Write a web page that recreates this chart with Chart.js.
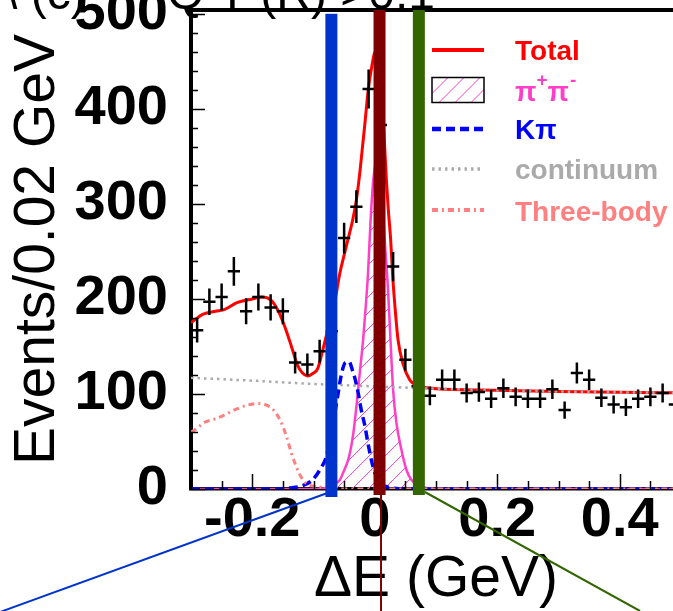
<!DOCTYPE html>
<html lang="en">
<head>
<meta charset="UTF-8">
<title>Delta E fit</title>
<style>
    html, body {
        margin: 0;
        padding: 0;
        background: #fff;
        overflow: hidden;
    }
    .wrap {
        position: absolute;
        left: 0;
        top: 0;
        width: 700px;
        height: 611px;
    }
</style>
</head>
<body>
<div class="wrap"><canvas id="deChart"></canvas></div>

<script src="https://cdn.jsdelivr.net/npm/chart.js"></script>
<script>
// data histogram, 0.02 GeV bins
const binCenters = [-0.29, -0.27, -0.25, -0.23, -0.21, -0.19, -0.17, -0.15, -0.13, -0.11,
    -0.09, -0.07, -0.05, -0.03, -0.01, 0.01, 0.03, 0.05, 0.07, 0.09,
    0.11, 0.13, 0.15, 0.17, 0.19, 0.21, 0.23, 0.25, 0.27, 0.29,
    0.31, 0.33, 0.35, 0.37, 0.39, 0.41, 0.43, 0.45, 0.47, 0.49];
const binCounts = [167, 197, 202, 229, 187, 202, 191, 187, 133, 131,
    145, 166, 264, 297, 421, 383, 234, 136, 108, 98,
    115, 115, 101, 102, 95, 106, 97, 95, 95, 105,
    83, 122, 115, 96, 89, 86, 95, 97, 101, 89];
const binHalfWidth = 0.01;

// fit components
const totalX = [-0.30, -0.28, -0.26, -0.245, -0.225, -0.20, -0.185, -0.17, -0.158, -0.147,
    -0.136, -0.126, -0.118, -0.11, -0.10, -0.093, -0.085, -0.075, -0.065, -0.057,
    -0.05, -0.044, -0.036, -0.03, -0.024, -0.02, -0.016, -0.011, -0.005, 0.001,
    0.006, 0.011, 0.015, 0.019, 0.022, 0.026, 0.029, 0.033, 0.038, 0.046,
    0.057, 0.065, 0.08, 0.1, 0.2, 0.3, 0.4, 0.5];
const totalY = [175, 184, 187, 189, 196, 200, 202, 199, 188, 171,
    150, 130, 122, 119, 122, 127, 146, 172, 198, 227,
    246, 262, 283, 304, 335, 360, 385, 418, 444, 460,
    450, 418, 375, 325, 295, 262, 227, 192, 157, 132,
    115, 110, 107, 105.5, 104, 102.6, 101.7, 101.2];

const pipiX = [-0.30, -0.10, -0.08, -0.069, -0.057, -0.052, -0.042, -0.035, -0.030, -0.0245,
    -0.019, -0.0147, -0.011, -0.007, -0.0028, 0.0025, 0.008, 0.013, 0.017, 0.0217,
    0.0257, 0.030, 0.0355, 0.0436, 0.0518, 0.06, 0.0735, 0.09, 0.11, 0.5];
const pipiY = [0, 0, 1, 4, 9.5, 16.5, 34, 58.6, 86.6, 122,
    157, 192, 227, 280, 322, 345, 330, 295, 255, 209,
    157, 104, 69, 41, 20, 9.5, 3, 0.5, 0, 0];

const kpiX = [-0.30, -0.16, -0.14, -0.12, -0.101, -0.087, -0.079, -0.07, -0.06, -0.054,
    -0.048, -0.042, -0.036, -0.033, -0.027, -0.022, -0.016, -0.011, -0.0055, -0.0028,
    0.003, 0.008, 0.019, 0.03, 0.05, 0.5];
const kpiY = [0, 0, 1, 3, 10, 23, 34, 62, 100, 122,
    133, 134, 124, 118, 101, 83, 66, 48, 30.5, 23.5,
    12, 6, 2.4, 1, 0, 0];

const contX = [-0.30, -0.20, -0.10, 0.0, 0.1, 0.2, 0.3, 0.4, 0.5];
const contY = [117, 114, 110.5, 108, 105.5, 104, 102.6, 101.7, 101.2];

const threeX = [-0.30, -0.294, -0.278, -0.259, -0.245, -0.226, -0.207, -0.190, -0.174, -0.163,
    -0.152, -0.144, -0.136, -0.127, -0.119, -0.111, -0.093, -0.07, -0.05, 0.5];
const threeY = [60, 62, 70, 74, 78, 84, 88.4, 90, 87.4, 81.4,
    69, 55, 37.6, 21.8, 11.3, 5.3, 2.4, 0.5, 0, 0];

// signal window cuts
const cutValues = [-0.0708, 0.0078, 0.072];
const cutColors = ["#0033cc", "#7f0000", "#336600"];

const xTickValues = [-0.2, 0, 0.2, 0.4];
const yTickValues = [0, 100, 200, 300, 400, 500];

const FONT = "'Liberation Sans', Arial, Helvetica, sans-serif";
Chart.defaults.font.family = FONT;
Chart.defaults.color = "#000";

const pipiColor = "#ff3fc8";

function toPoints(xs, ys) {
    return xs.map((x, i) => ({ x: x, y: ys[i] }));
}

// diagonal "/" hatching inside whatever clip is active
function drawHatch(ctx, x, y, w, h) {
    ctx.strokeStyle = pipiColor;
    ctx.lineWidth = 1;
    ctx.beginPath();
    for (let s = -h; s < w; s += 16) {
        ctx.moveTo(x + s, y + h);
        ctx.lineTo(x + s + h, y);
    }
    ctx.stroke();
}

const histPlugin = {
    id: "histPlugin",
    beforeDatasetsDraw(chart) {
        // hatched area under the pi+pi- shape
        const { ctx, chartArea: a, scales: { y } } = chart;
        const meta = chart.getDatasetMeta(1);
        const line = meta.dataset;
        const pts = meta.data;
        if (line.updateControlPoints) line.updateControlPoints(a, "x");
        const base = y.getPixelForValue(0);
        ctx.save();
        ctx.beginPath();
        ctx.rect(a.left, a.top, a.right - a.left, a.bottom - a.top);
        ctx.clip();
        ctx.beginPath();
        line.path(ctx);
        ctx.lineTo(pts[pts.length - 1].x, base);
        ctx.lineTo(pts[0].x, base);
        ctx.closePath();
        ctx.clip();
        drawHatch(ctx, a.left, a.top, a.right - a.left, a.bottom - a.top);
        ctx.restore();
    },
    afterDatasetsDraw(chart) {
        const { ctx, chartArea: a, scales: { x, y } } = chart;
        ctx.save();

        // data points with sqrt(N) errors
        ctx.beginPath();
        ctx.rect(a.left, a.top, a.right - a.left, a.bottom - a.top);
        ctx.clip();
        ctx.strokeStyle = "#000";
        ctx.lineWidth = 2.5;
        ctx.beginPath();
        binCenters.forEach((c, i) => {
            const n = binCounts[i];
            const err = Math.sqrt(n);
            const px = x.getPixelForValue(c);
            const py = y.getPixelForValue(n);
            ctx.moveTo(x.getPixelForValue(c - binHalfWidth), py);
            ctx.lineTo(x.getPixelForValue(c + binHalfWidth), py);
            ctx.moveTo(px, y.getPixelForValue(n - err));
            ctx.lineTo(px, y.getPixelForValue(n + err));
        });
        ctx.stroke();
        ctx.restore();

        // tick marks pointing into the frame
        ctx.save();
        ctx.strokeStyle = "#000";
        ctx.lineWidth = 1.5;
        ctx.beginPath();
        for (let v = 0; v <= 500; v += 20) {
            const py = Math.round(y.getPixelForValue(v)) + 0.5;
            ctx.moveTo(a.left, py);
            ctx.lineTo(a.left + (v % 100 === 0 ? 14 : 7), py);
        }
        for (let k = -6; k <= 10; k++) {
            const px = Math.round(x.getPixelForValue(k * 0.05)) + 0.5;
            ctx.moveTo(px, a.bottom);
            ctx.lineTo(px, a.bottom - (k % 4 === 0 ? 15 : 8));
        }
        ctx.stroke();

        // top edge of the frame
        ctx.lineWidth = 4;
        ctx.beginPath();
        ctx.moveTo(a.left - 2, a.top);
        ctx.lineTo(a.right, a.top);
        ctx.stroke();

        drawLegend(ctx, chart);
        ctx.restore();
    },
    afterDraw(chart) {
        const { ctx, chartArea: a, scales: { x, y } } = chart;
        ctx.save();

        // pad title, mostly above the top edge of the canvas
        ctx.fillStyle = "#000";
        ctx.font = "48px " + FONT;
        ctx.textBaseline = "alphabetic";
        ctx.textAlign = "left";
        ctx.fillText("\\ (c)", 4, 9);
        ctx.fillText("Q T (R) >0.1", 167, 9);

        const tops = [y.getPixelForValue(500), a.top, a.top];
        const bottoms = [a.bottom + 8, a.bottom + 6, a.bottom + 6];
        const px = cutValues.map(v => x.getPixelForValue(v));
        cutValues.forEach((v, i) => {
            ctx.fillStyle = cutColors[i];
            ctx.fillRect(px[i] - 6, tops[i], 12, bottoms[i] - tops[i]);
        });

        // guide lines running off the bottom of the pad
        ctx.lineWidth = 2;
        ctx.strokeStyle = cutColors[0];
        ctx.beginPath();
        ctx.moveTo(px[0] - 4, a.bottom + 4);
        ctx.lineTo(0, 612);
        ctx.stroke();
        ctx.strokeStyle = cutColors[1];
        ctx.beginPath();
        ctx.moveTo(px[1] + 1.5, a.bottom + 6);
        ctx.lineTo(px[1] + 1.5, 611);
        ctx.stroke();
        ctx.strokeStyle = cutColors[2];
        ctx.beginPath();
        ctx.moveTo(px[2] + 6, a.bottom + 3);
        ctx.lineTo(640, 611);
        ctx.stroke();
        ctx.restore();
    }
};

function drawLegend(ctx, chart) {
    const ds = chart.data.datasets;
    const x0 = 432, x1 = 484, tx = 515;
    const rows = [50, 90, 129, 169, 210];
    ctx.save();
    ctx.textBaseline = "alphabetic";
    ctx.textAlign = "left";

    rows.forEach((ry, i) => {
        const d = ds[i];
        if (i === 1) {
            ctx.save();
            ctx.beginPath();
            ctx.rect(x0, ry - 12.5, x1 - x0, 25);
            ctx.clip();
            drawHatch(ctx, x0, ry - 12.5, x1 - x0, 25);
            ctx.restore();
            ctx.strokeStyle = "#000";
            ctx.lineWidth = 1.5;
            ctx.strokeRect(x0, ry - 12.5, x1 - x0, 25);
        } else {
            ctx.strokeStyle = d.borderColor;
            ctx.lineWidth = d.borderWidth + 1;
            ctx.setLineDash(d.borderDash || []);
            ctx.beginPath();
            ctx.moveTo(x0, ry);
            ctx.lineTo(x1, ry);
            ctx.stroke();
            ctx.setLineDash([]);
        }
    });

    const big = "bold 28px " + FONT;
    const small = "bold 19px " + FONT;
    ctx.font = big;
    ctx.fillStyle = ds[0].borderColor;
    ctx.fillText("Total", tx, rows[0] + 10);

    // pi+ pi- with raised charges
    let cx = tx;
    const b1 = rows[1] + 11;
    ctx.fillStyle = pipiColor;
    ctx.font = big; ctx.fillText("\u03c0", cx, b1); cx += ctx.measureText("\u03c0").width;
    ctx.font = small; ctx.fillText("+", cx, b1 - 15); cx += ctx.measureText("+").width;
    ctx.font = big; ctx.fillText("\u03c0", cx, b1); cx += ctx.measureText("\u03c0").width;
    ctx.font = small; ctx.fillText("-", cx + 1, b1 - 15);

    ctx.font = big;
    ctx.fillStyle = ds[2].borderColor;
    ctx.fillText("K\u03c0", tx, rows[2] + 10);
    ctx.fillStyle = ds[3].borderColor;
    ctx.fillText("continuum", tx, rows[3] + 10);
    ctx.fillStyle = ds[4].borderColor;
    ctx.fillText("Three-body", tx, rows[4] + 11);
    ctx.restore();
}

const ctx = document.getElementById("deChart").getContext("2d");
new Chart(ctx, {
    type: "line",
    data: {
        datasets: [
            {
                label: "Total",
                data: toPoints(totalX, totalY),
                borderColor: "#ff0000",
                borderWidth: 3,
                order: 3
            },
            {
                label: "\u03c0+\u03c0-",
                data: toPoints(pipiX, pipiY),
                borderColor: pipiColor,
                borderWidth: 2.5,
                order: 5
            },
            {
                label: "K\u03c0",
                data: toPoints(kpiX, kpiY),
                borderColor: "#0000ff",
                borderWidth: 3.5,
                borderDash: [9, 5],
                order: 4
            },
            {
                label: "continuum",
                data: toPoints(contX, contY),
                borderColor: "#aaaaaa",
                borderWidth: 2.5,
                borderDash: [2.5, 4],
                order: 2
            },
            {
                label: "Three-body",
                data: toPoints(threeX, threeY),
                borderColor: "#ff8080",
                borderWidth: 3,
                borderDash: [6, 4, 2, 4],
                order: 1
            }
        ]
    },
    options: {
        responsive: true,
        maintainAspectRatio: false,
        animation: false,
        layout: { padding: { left: 0, right: 19, top: 10, bottom: 0 } },
        elements: {
            point: { radius: 0, hoverRadius: 0 },
            line: { cubicInterpolationMode: "monotone", fill: false }
        },
        plugins: {
            legend: { display: false },
            tooltip: { enabled: false }
        },
        scales: {
            x: {
                type: "linear",
                min: -0.3,
                max: 0.5,
                afterFit(s) { s.height = 122; s.paddingLeft = 0; s.paddingRight = 0; },
                afterBuildTicks(s) { s.ticks = xTickValues.map(v => ({ value: v })); },
                grid: { display: false, drawTicks: false },
                border: { display: true, color: "#000", width: 3.5 },
                ticks: {
                    autoSkip: false,
                    maxRotation: 0,
                    padding: -2,
                    color: "#000",
                    font: { size: 56, weight: "bold" },
                    callback: v => String(v)
                },
                title: {
                    display: true,
                    text: "\u0394E (GeV)",
                    color: "#000",
                    font: { size: 57 },
                    padding: { top: 0, bottom: -3 }
                }
            },
            y: {
                min: 0,
                max: 504,
                afterFit(s) { s.width = 191; s.paddingTop = 0; s.paddingBottom = 0; },
                afterBuildTicks(s) { s.ticks = yTickValues.map(v => ({ value: v })); },
                grid: { display: false, drawTicks: false },
                border: { display: true, color: "#000", width: 4 },
                ticks: {
                    autoSkip: false,
                    padding: 23,
                    color: "#000",
                    font: { size: 56, weight: "bold" }
                },
                title: {
                    display: true,
                    text: "Events/0.02 GeV",
                    color: "#000",
                    font: { size: 57 },
                    padding: { top: 4, bottom: 0 }
                }
            }
        }
    },
    plugins: [histPlugin]
});
</script>
</body>
</html>
